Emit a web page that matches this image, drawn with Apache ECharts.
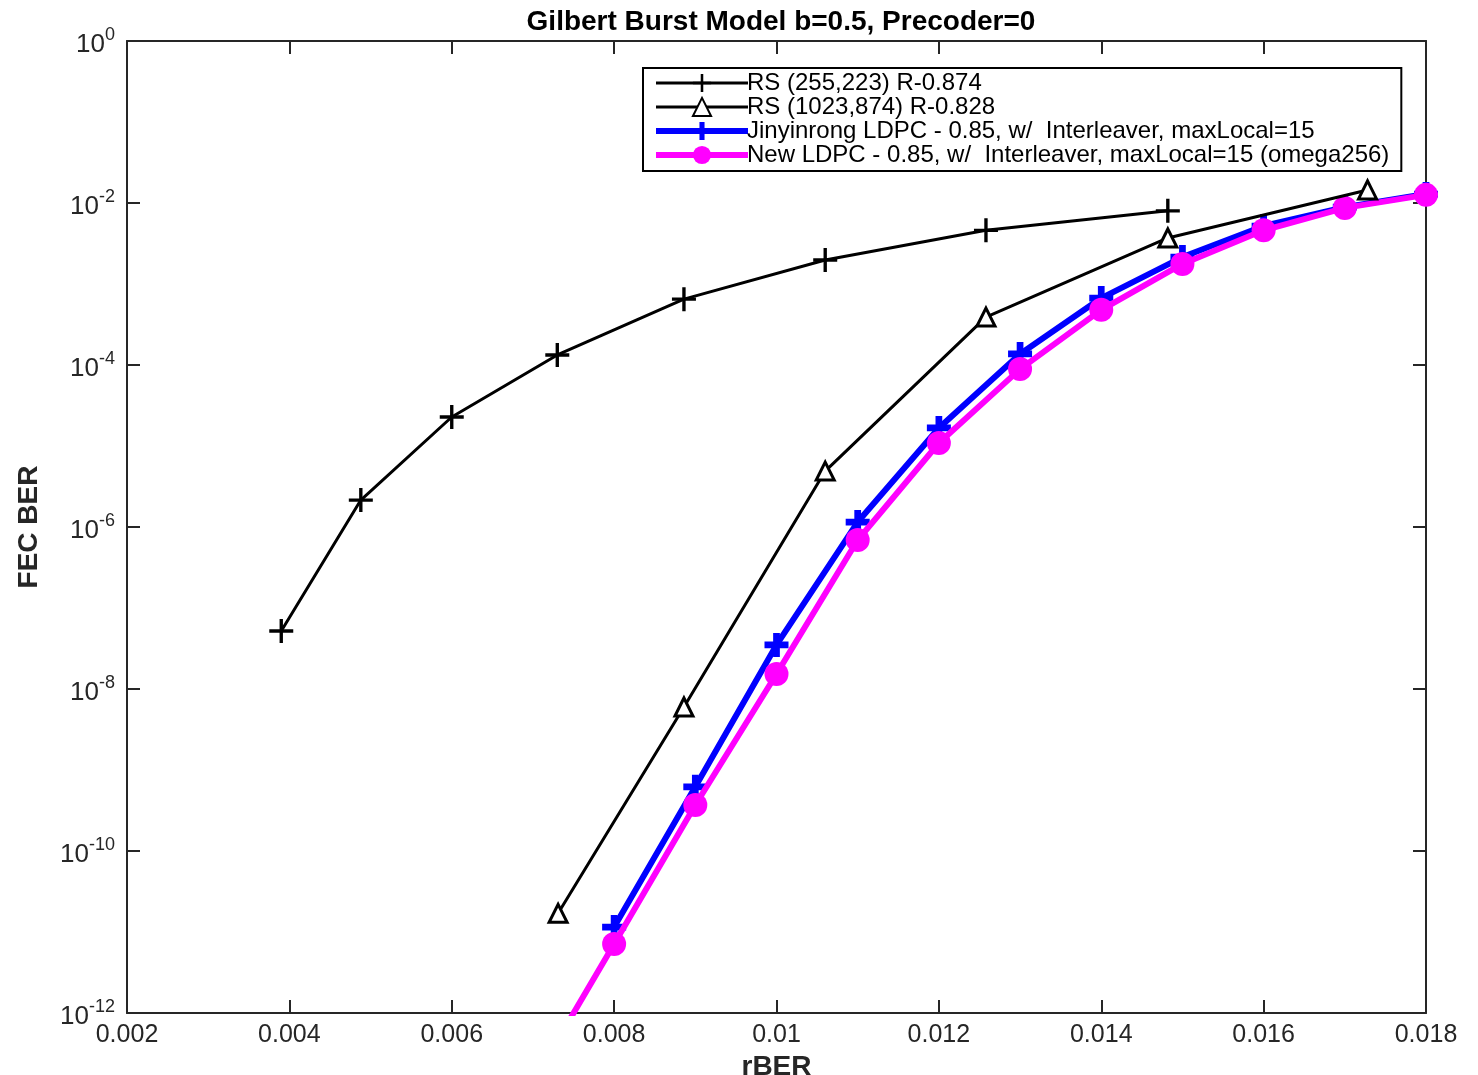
<!DOCTYPE html>
<html><head><meta charset="utf-8">
<script src="https://cdn.jsdelivr.net/npm/echarts@6/dist/echarts.min.js"></script>
<style>html,body{margin:0;padding:0;background:#fff}#c{width:1478px;height:1075px}</style>
</head><body><div id="c"></div>
<script>
const rsAX = [0.0039, 0.00488, 0.0060, 0.0073, 0.00886, 0.0106, 0.01258, 0.01482];
const rsAY = [5.2e-8, 2.15e-6, 2.28e-5, 1.33e-4, 6.5e-4, 1.98e-3, 4.6e-3, 8.0e-3];
const rsBX = [0.00731, 0.00886, 0.0106, 0.01258, 0.01482, 0.01728];
const rsBY = [1.7e-11, 6.0e-9, 4.9e-6, 3.9e-4, 3.7e-3, 1.45e-2];
const ldpcX = [0.008, 0.009, 0.010, 0.011, 0.012, 0.013, 0.014, 0.015, 0.016, 0.017, 0.018];
const jinY = [1.15e-11, 6.2e-10, 3.5e-8, 1.15e-6, 1.67e-5, 1.37e-4, 6.7e-4, 2.15e-3, 5.2e-3, 8.9e-3, 1.29e-2];
const newX = [0.007, 0.008, 0.009, 0.010, 0.011, 0.012, 0.013, 0.014, 0.015, 0.016, 0.017, 0.018];
const newY = [1.4e-13, 7.1e-12, 3.7e-10, 1.53e-8, 6.9e-7, 1.09e-5, 8.9e-5, 4.8e-4, 1.77e-3, 4.6e-3, 8.7e-3, 1.26e-2];
const yTicks = [1e-12, 1e-10, 1e-8, 1e-6, 1e-4, 1e-2, 1];
const names = ['RS (255,223) R-0.874', 'RS (1023,874) R-0.828',
  'Jinyinrong LDPC - 0.85, w/  Interleaver, maxLocal=15',
  'New LDPC - 0.85, w/  Interleaver, maxLocal=15 (omega256)'];

const zip = (a, b) => a.map((v, i) => [v, b[i]]);
const FONT = '"Liberation Sans", Arial, sans-serif';
const AX = '#262626';
const plusThin = 'path://M8.6,0H11.4V20H8.6Z M0,8.6H20V11.4H0Z';
const plusThick = 'path://M7.2,0H12.8V20H7.2Z M0,7.2H20V12.8H0Z';

const chart = echarts.init(document.getElementById('c'));
const axisCommon = {
  axisLine: {show: true, lineStyle: {color: AX, width: 2}},
  axisTick: {show: true, inside: true, length: 13, lineStyle: {color: AX, width: 2}},
  splitLine: {show: false}
};
chart.setOption({
  animation: false,
  backgroundColor: '#fff',
  title: {text: 'Gilbert Burst Model b=0.5, Precoder=0', left: 776, textAlign: 'center', top: 3,
    textStyle: {fontFamily: FONT, fontSize: 28, fontWeight: 'bold', color: '#000'}},
  grid: {left: 127, top: 41, right: 52, bottom: 62, containLabel: false, outerBoundsMode: 'none'},
  legend: {
    orient: 'vertical', left: 643, top: 68,
    data: [
      {name: names[0], lineStyle: {width: 3}},
      {name: names[1], lineStyle: {width: 3}},
      {name: names[2], lineStyle: {width: 6}},
      {name: names[3], lineStyle: {width: 6}}
    ],
    itemGap: 0, itemWidth: 92, itemHeight: 22.7,
    padding: [3, 12, 4, 10],
    borderColor: '#000', borderWidth: 2, backgroundColor: '#fff',
    textStyle: {fontFamily: FONT, fontSize: 24, color: '#000', padding: [0, 0, 0, -6]}
  },
  xAxis: [
    Object.assign({type: 'value', min: 0.002, max: 0.018, interval: 0.002, position: 'bottom',
      name: 'rBER', nameLocation: 'middle', nameGap: 34,
      nameTextStyle: {fontFamily: FONT, fontSize: 28, fontWeight: 'bold', color: AX},
      axisLabel: {fontFamily: FONT, fontSize: 25, color: AX, margin: 10,
        formatter: v => String(parseFloat(v.toFixed(4)))}}, axisCommon),
    Object.assign({type: 'value', min: 0.002, max: 0.018, interval: 0.002, position: 'top',
      axisLabel: {show: false}}, axisCommon)
  ],
  yAxis: [
    Object.assign({type: 'log', logBase: 10, min: 1e-12, max: 1, position: 'left',
      name: 'FEC BER', nameLocation: 'middle', nameGap: 84, nameRotate: 90,
      nameTextStyle: {fontFamily: FONT, fontSize: 28, fontWeight: 'bold', color: AX},
      axisTick: {show: true, inside: true, length: 13, lineStyle: {color: AX, width: 2}, customValues: yTicks},
      axisLabel: {customValues: yTicks, margin: 12, fontFamily: FONT, color: AX,
        formatter: v => '{b|10}{s|' + Math.round(Math.log10(v)) + '}',
        rich: {b: {fontFamily: FONT, fontSize: 26, color: AX, padding: [8, 0, 0, 0]},
               s: {fontFamily: FONT, fontSize: 18, color: AX, padding: [0, 0, 12, 0]}}}},
      {axisLine: axisCommon.axisLine, splitLine: {show: false}}),
    {type: 'log', logBase: 10, min: 1e-12, max: 1, position: 'right',
      axisLine: axisCommon.axisLine, splitLine: {show: false},
      axisTick: {show: true, inside: true, length: 13, lineStyle: {color: AX, width: 2}, customValues: yTicks},
      axisLabel: {show: false}}
  ],
  series: [
    {name: names[2], type: 'line', data: zip(ldpcX, jinY), xAxisIndex: 0, yAxisIndex: 0,
      color: '#0000ff', lineStyle: {width: 6, color: '#0000ff'},
      symbol: plusThick, symbolSize: 24, showAllSymbol: true,
      itemStyle: {color: '#0000ff'}, clip: true, z: 2},
    {name: names[3], type: 'line', data: zip(newX, newY), xAxisIndex: 0, yAxisIndex: 0,
      color: '#ff00ff', lineStyle: {width: 6, color: '#ff00ff'},
      symbol: 'circle', symbolSize: 24, showAllSymbol: true,
      itemStyle: {color: '#ff00ff'}, clip: true, z: 3},
    {name: names[0], type: 'line', data: zip(rsAX, rsAY), xAxisIndex: 0, yAxisIndex: 0,
      color: '#000', lineStyle: {width: 3, color: '#000'},
      symbol: plusThin, symbolSize: 24, showAllSymbol: true,
      itemStyle: {color: '#000'}, clip: true, z: 4},
    {name: names[1], type: 'line', data: zip(rsBX, rsBY), xAxisIndex: 0, yAxisIndex: 0,
      color: '#000', lineStyle: {width: 3, color: '#000'},
      symbol: 'triangle', symbolSize: 18, showAllSymbol: true,
      itemStyle: {color: '#fff', borderColor: '#000', borderWidth: 3}, clip: true, z: 4}
  ]
});
</script></body></html>
